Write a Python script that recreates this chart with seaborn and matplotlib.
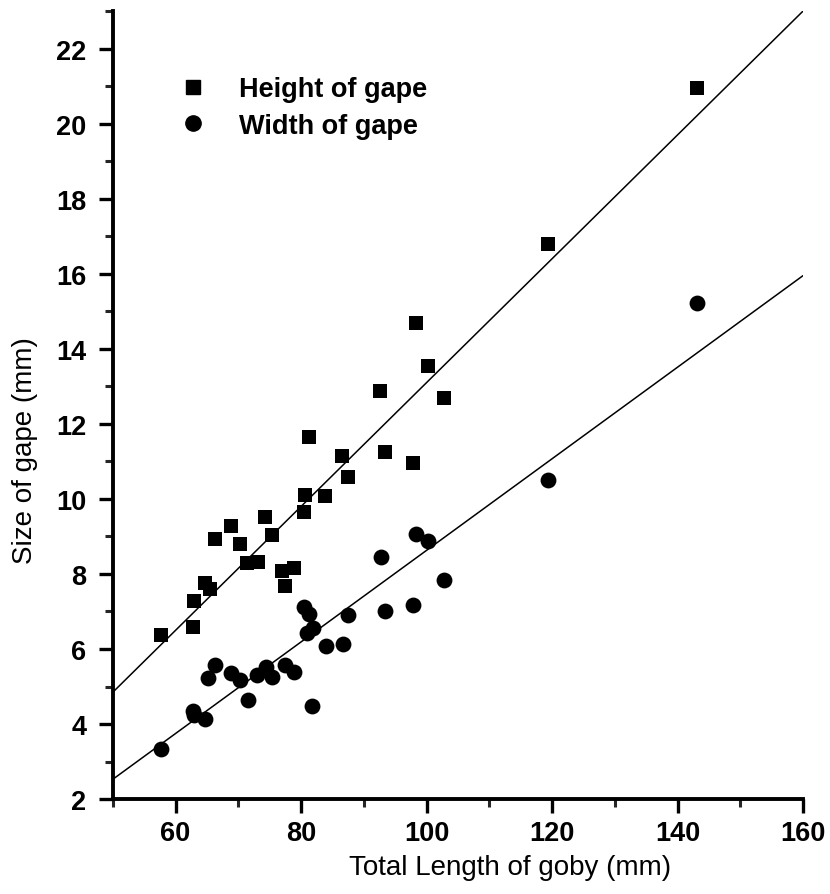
import numpy as np
import pandas as pd
import matplotlib
matplotlib.use("Agg")
import matplotlib.pyplot as plt
import seaborn as sns
from matplotlib.ticker import MultipleLocator
from matplotlib.lines import Line2D

# ---- data ----
height_x = [57.6, 62.8, 62.9, 64.7, 65.4, 66.2, 68.8, 70.3, 71.4, 73.2, 74.2,
            75.4, 76.9, 77.4, 78.9, 80.5, 80.7, 81.2, 83.8, 86.5, 87.5, 92.6,
            93.3, 97.8, 98.3, 100.3, 102.7, 119.4, 143.1]
height_y = [6.37, 6.58, 7.29, 7.75, 7.6, 8.93, 9.28, 8.8, 8.29, 8.31, 9.51,
            9.04, 8.09, 7.69, 8.15, 9.65, 10.11, 11.66, 10.08, 11.15, 10.58, 12.87,
            11.26, 10.96, 14.69, 13.54, 12.69, 16.8, 20.96]

width_x = [57.6, 62.8, 62.9, 64.7, 65.2, 66.2, 68.8, 70.3, 71.6, 72.9, 74.4,
           75.3, 77.4, 78.9, 80.5, 80.9, 81.3, 81.8, 81.9, 83.9, 86.6, 87.4,
           92.7, 93.4, 97.8, 98.3, 100.3, 102.7, 119.4, 143.1]
width_y = [3.33, 4.35, 4.25, 4.13, 5.23, 5.57, 5.37, 5.18, 4.65, 5.31, 5.51,
           5.25, 5.57, 5.39, 7.11, 6.44, 6.93, 4.49, 6.55, 6.07, 6.13, 6.91,
           8.45, 7.0, 7.17, 9.07, 8.87, 7.85, 10.5, 15.23]

fit_x = [50, 160]
height_fit_y = [4.85, 23.0]
width_fit_y = [2.53, 15.95]

series_names = ["Height of gape", "Width of gape"]
x_label = "Total Length of goby (mm)"
y_label = "Size of gape (mm)"

# ---- plotting ----
sns.set_style("ticks")
plt.rcParams["font.family"] = ["Liberation Sans", "DejaVu Sans"]
plt.rcParams["text.color"] = "black"
plt.rcParams["axes.labelcolor"] = "black"

fig = plt.figure(figsize=(8.30, 8.95), dpi=100)
ax = fig.add_axes([0.136, 0.106, 0.8315, 0.8805])

dh = pd.DataFrame({"x": height_x, "y": height_y})
dw = pd.DataFrame({"x": width_x, "y": width_y})
sns.scatterplot(data=dh, x="x", y="y", marker="s", s=110, color="black",
                edgecolor="black", linewidth=0, ax=ax, zorder=3)
sns.scatterplot(data=dw, x="x", y="y", marker="o", s=130, color="black",
                edgecolor="black", linewidth=0, ax=ax, zorder=3)

lh = pd.DataFrame({"x": fit_x, "y": height_fit_y})
lw = pd.DataFrame({"x": fit_x, "y": width_fit_y})
sns.lineplot(data=lh, x="x", y="y", color="black", linewidth=1.1, ax=ax)
sns.lineplot(data=lw, x="x", y="y", color="black", linewidth=1.1, ax=ax)

ax.set_xlim(50, 160)
ax.set_ylim(2, 23)
ax.xaxis.set_major_locator(MultipleLocator(20))
ax.xaxis.set_minor_locator(MultipleLocator(10))
ax.yaxis.set_major_locator(MultipleLocator(2))
ax.yaxis.set_minor_locator(MultipleLocator(1))
ax.set_xticks([60, 80, 100, 120, 140, 160])

for s in ["top", "right"]:
    ax.spines[s].set_visible(False)
for s in ["left", "bottom"]:
    ax.spines[s].set_linewidth(2.8)
    ax.spines[s].set_color("black")

ax.tick_params(axis="both", which="major", direction="out", length=10, width=2.4,
               labelsize=19.5, colors="black")
ax.tick_params(axis="x", which="major", pad=5)
ax.tick_params(axis="y", which="major", pad=9)
ax.tick_params(axis="both", which="minor", direction="out", length=6, width=2.2)
for lab in ax.get_xticklabels() + ax.get_yticklabels():
    lab.set_fontweight("bold")

ax.set_xlabel(x_label, fontsize=20, color="black")
ax.set_ylabel(y_label, fontsize=20, color="black")
ax.xaxis.set_label_coords(0.575, -0.069)
ax.yaxis.set_label_coords(-0.108, 0.444)

handles = [Line2D([], [], marker="s", color="black", linestyle="none", markersize=10),
           Line2D([], [], marker="o", color="black", linestyle="none", markersize=11)]
leg = ax.legend(handles, series_names, loc="upper left",
                bbox_to_anchor=(0.097, 0.917), frameon=False, borderpad=0,
                borderaxespad=0,
                prop={"size": 19.5, "weight": "bold"}, handletextpad=1.2,
                labelspacing=0.37, handlelength=1.0, labelcolor="black")

fig.savefig("out.png", dpi=100)
